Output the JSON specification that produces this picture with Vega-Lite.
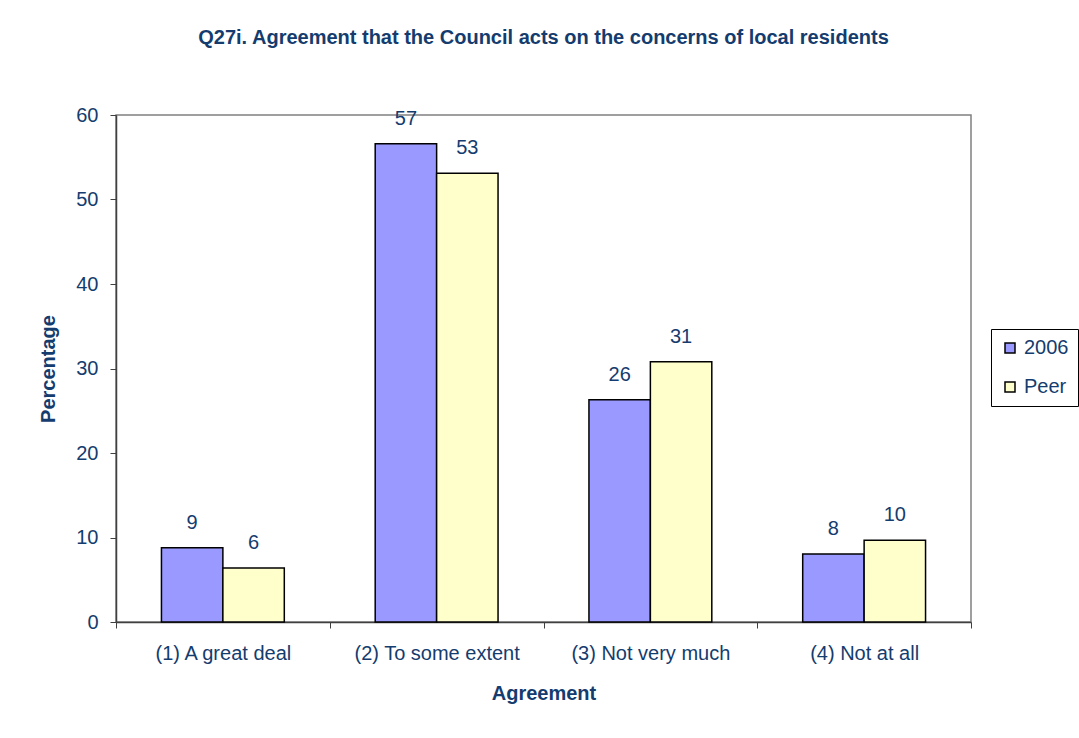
{
  "$schema": "https://vega.github.io/schema/vega-lite/v6.json",
  "autosize": {"type": "none"},
  "width": 855,
  "height": 507,
  "padding": {"left": 116, "top": 115, "right": 108, "bottom": 116},
  "background": "white",
  "title": {
    "text": "Q27i. Agreement that the Council acts on the concerns of local residents",
    "font": "Liberation Sans",
    "fontSize": 20,
    "fontWeight": "bold",
    "color": "#143C6E",
    "anchor": "middle",
    "offset": 57
  },
  "config": {
    "view": {"stroke": "#808080", "strokeWidth": 1.5},
    "font": "Liberation Sans"
  },
  "data": {
    "values": [
      {"agreement": "(1) A great deal", "series": "2006", "value": 8.78},
      {"agreement": "(1) A great deal", "series": "Peer", "value": 6.4},
      {"agreement": "(2) To some extent", "series": "2006", "value": 56.6},
      {"agreement": "(2) To some extent", "series": "Peer", "value": 53.1},
      {"agreement": "(3) Not very much", "series": "2006", "value": 26.3},
      {"agreement": "(3) Not very much", "series": "Peer", "value": 30.8},
      {"agreement": "(4) Not at all", "series": "2006", "value": 8.04},
      {"agreement": "(4) Not at all", "series": "Peer", "value": 9.67}
    ]
  },
  "encoding": {
    "x": {
      "field": "agreement",
      "type": "nominal",
      "sort": null,
      "scale": {"paddingInner": 0, "paddingOuter": 0},
      "axis": {
        "title": "Agreement",
        "titleFont": "Liberation Sans",
        "titleFontSize": 20,
        "titleFontWeight": "bold",
        "titleColor": "#143C6E",
        "titlePadding": 20,
        "labelAngle": 0,
        "labelFont": "Liberation Sans",
        "labelFontSize": 20,
        "labelColor": "#143C6E",
        "labelPadding": 15,
        "tickBand": "extent",
        "tickSize": 6,
        "tickColor": "#404040",
        "domainColor": "#404040",
        "domainWidth": 1.5,
        "grid": false
      }
    },
    "xOffset": {
      "field": "series",
      "type": "nominal",
      "scale": {"paddingInner": 0, "paddingOuter": 0.74}
    },
    "y": {
      "field": "value",
      "type": "quantitative",
      "scale": {"domain": [0, 60]},
      "axis": {
        "title": "Percentage",
        "titleFont": "Liberation Sans",
        "titleFontSize": 20,
        "titleFontWeight": "bold",
        "titleColor": "#143C6E",
        "titlePadding": 17,
        "values": [0, 10, 20, 30, 40, 50, 60],
        "labelFont": "Liberation Sans",
        "labelFontSize": 20,
        "labelColor": "#143C6E",
        "labelPadding": 12,
        "tickSize": 6,
        "tickColor": "#404040",
        "domainColor": "#404040",
        "domainWidth": 1.5,
        "grid": false
      }
    }
  },
  "layer": [
    {
      "mark": {"type": "bar", "stroke": "black", "strokeWidth": 1.5},
      "encoding": {
        "color": {
          "field": "series",
          "type": "nominal",
          "scale": {"domain": ["2006", "Peer"], "range": ["#9999FF", "#FFFFCC"]},
          "legend": {
            "title": null,
            "orient": "none",
            "legendX": 875,
            "legendY": 214,
            "padding": 9,
            "strokeColor": "black",
            "fillColor": "white",
            "symbolType": "square",
            "symbolSize": 100,
            "symbolStrokeColor": "black",
            "symbolStrokeWidth": 1.5,
            "labelFont": "Liberation Sans",
            "labelFontSize": 20,
            "labelColor": "#143C6E",
            "rowPadding": 19,
            "labelOffset": 4
          }
        }
      }
    },
    {
      "mark": {"type": "text", "baseline": "bottom", "dy": -15, "font": "Liberation Sans", "fontSize": 20, "color": "#143C6E"},
      "encoding": {
        "text": {"field": "value", "type": "quantitative", "format": ".0f"}
      }
    }
  ]
}
